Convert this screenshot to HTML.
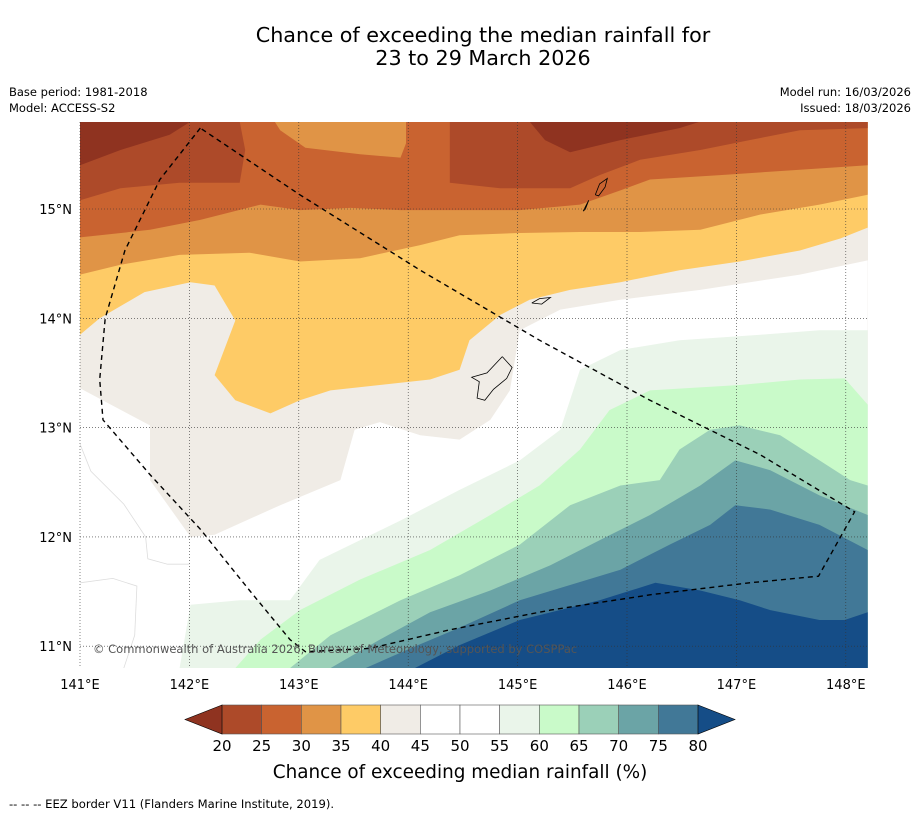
<!DOCTYPE html>
<html><head><meta charset="utf-8"><style>
body{margin:0;background:#fff;font-family:"Liberation Sans","DejaVu Sans",sans-serif}
svg text{font-family:"DejaVu Sans","Liberation Sans",sans-serif}
</style></head><body>
<svg id="s" width="919" height="816" xmlns="http://www.w3.org/2000/svg">
<text x="483" y="42" font-size="20.7" text-anchor="middle">Chance of exceeding the median rainfall for</text>
<text x="483" y="65" font-size="20.7" text-anchor="middle">23 to 29 March 2026</text>
<text x="9" y="96" font-size="11.5">Base period: 1981-2018</text>
<text x="9" y="112" font-size="11.5">Model: ACCESS-S2</text>
<text x="911" y="96" font-size="11.5" text-anchor="end">Model run: 16/03/2026</text>
<text x="911" y="112" font-size="11.5" text-anchor="end">Issued: 18/03/2026</text>
<defs><clipPath id="mc"><rect x="80" y="122" width="788" height="546"/></clipPath></defs>
<g id="map" clip-path="url(#mc)"></g>
<g id="axes"></g>
<text x="93" y="653" font-size="11.5" fill="#555">© Commonwealth of Australia 2026, Bureau of Meteorology, supported by COSPPac</text>
<g id="cbar"></g>
<text x="460" y="778" font-size="18.4" text-anchor="middle">Chance of exceeding median rainfall (%)</text>
<text x="9" y="808" font-size="11.6">--  --  -- EEZ border V11 (Flanders Marine Institute, 2019).</text>
</svg>
<script>
const lonTicks=[141,142,143,144,145,146,147,148];
const latTicks=[11,12,13,14,15];
const levels=[20,25,30,35,40,45,50,55,60,65,70,75,80];
const bandColors=['#ad4a29','#c96330','#e09446','#fecb66','#f0ece6','#ffffff','#ffffff','#eaf5ea','#c9fac9','#9bd0b8','#6ba4a6','#417897'];
const lowColor='#8f3320', highColor='#154d87';
const c40=[[141,13.85],[141.18,14.00],[141.59,14.24],[142.01,14.33],[142.23,14.30],[142.42,13.98],[142.23,13.48],[142.42,13.25],[142.74,13.13],[143.01,13.25],[143.29,13.34],[143.74,13.39],[144.20,13.44],[144.47,13.53],[144.56,13.80],[144.84,14.03],[145.11,14.17],[145.48,14.26],[145.94,14.33],[146.48,14.44],[147.03,14.52],[147.58,14.62],[147.95,14.73],[148.2,14.83]];
const c35=[[141,14.40],[141.37,14.49],[141.91,14.58],[142.55,14.60],[143.01,14.52],[143.56,14.55],[144.11,14.67],[144.47,14.76],[145.02,14.78],[145.57,14.79],[146.12,14.79],[146.67,14.81],[147.22,14.95],[147.76,15.04],[148.2,15.13]];
const c30=[[141,14.74],[141.64,14.81],[142.10,14.90],[142.65,15.04],[143.01,14.99],[143.47,15.01],[143.93,14.99],[144.38,14.99],[145.02,14.99],[145.57,15.04],[145.94,15.17],[146.21,15.27],[146.85,15.31],[147.58,15.36],[148.2,15.40]];
const patch30=[[142.78,15.80],[142.83,15.72],[143.06,15.56],[143.56,15.50],[143.93,15.47],[143.98,15.60],[143.98,15.80]];
const c25w=[[141,15.08],[141.37,15.19],[141.91,15.24],[142.46,15.24],[142.51,15.54],[142.46,15.80],[141,15.80]];
const c25e=[[144.38,15.80],[144.38,15.24],[144.84,15.19],[145.48,15.19],[145.75,15.31],[146.12,15.45],[146.67,15.54],[147.12,15.63],[147.58,15.72],[148.2,15.74],[148.2,15.80]];
const c20w=[[141,15.40],[141.37,15.54],[141.82,15.68],[142.01,15.80],[141,15.80]];
const c20e=[[145.11,15.80],[145.25,15.63],[145.48,15.52],[145.94,15.63],[146.48,15.74],[146.67,15.80]];
const c45=[[141,13.36],[141.64,13.02],[141.64,12.52],[142.01,12.00],[142.23,12.02],[142.83,12.29],[143.38,12.52],[143.51,12.98],[143.74,13.05],[144.11,12.93],[144.47,12.89],[144.75,13.07],[144.93,13.34],[145.02,13.89],[145.39,14.08],[145.94,14.17],[146.67,14.26],[147.58,14.40],[148.2,14.53]];
const c55=[[141.91,10.80],[142.01,11.38],[142.46,11.42],[142.92,11.42],[143.19,11.79],[143.93,12.15],[144.47,12.43],[145.02,12.70],[145.39,12.98],[145.57,13.53],[145.94,13.71],[146.48,13.80],[147.22,13.85],[147.76,13.89],[148.2,13.89]];
const c60=[[142.42,10.80],[142.65,11.06],[143.01,11.33],[143.56,11.61],[144.20,11.88],[144.75,12.20],[145.20,12.47],[145.57,12.80],[145.84,13.16],[146.21,13.34],[147.03,13.39],[147.58,13.44],[147.99,13.45],[148.2,13.21]];
const c65=[[142.92,10.80],[143.29,11.10],[143.93,11.42],[144.47,11.65],[145.02,11.93],[145.48,12.29],[145.94,12.47],[146.30,12.52],[146.48,12.80],[146.76,12.98],[147.03,13.02],[147.40,12.93],[147.76,12.70],[148.04,12.52],[148.2,12.47]];
const c70=[[143.29,10.80],[143.74,11.06],[144.20,11.31],[144.75,11.51],[145.30,11.74],[145.75,11.97],[146.21,12.20],[146.67,12.47],[146.99,12.70],[147.31,12.61],[147.76,12.38],[148.2,12.20]];
const c75=[[143.61,10.80],[144.02,10.98],[144.47,11.17],[145.02,11.42],[145.48,11.56],[145.94,11.70],[146.39,11.93],[146.76,12.11],[146.99,12.29],[147.31,12.25],[147.76,12.11],[148.2,11.88]];
const c80=[[144.06,10.80],[144.47,11.01],[145.02,11.24],[145.75,11.42],[146.26,11.58],[146.67,11.51],[147.03,11.42],[147.31,11.33],[147.76,11.24],[147.99,11.24],[148.2,11.31]];
const faint1=[[141,12.85],[141.1,12.6],[141.4,12.3],[141.6,12.0],[141.62,11.8],[141.8,11.75],[142.0,11.75]];
const faint2=[[141,11.58],[141.3,11.62],[141.52,11.55],[141.5,11.1],[141.4,10.8]];
const eez=[[142.10,15.74],[141.73,15.27],[141.41,14.62],[141.23,14.00],[141.18,13.44],[141.21,13.07],[141.64,12.57],[142.10,12.07],[142.55,11.51],[142.92,11.06],[143.06,10.95],[143.65,10.98],[144.38,11.15],[145.30,11.33],[146.21,11.47],[147.12,11.58],[147.75,11.64],[148.08,12.23],[147.22,12.75],[146.21,13.25],[145.20,13.80],[144.11,14.44],[143.01,15.13],[142.10,15.74]];
const guam=[[144.86,13.65],[144.95,13.55],[144.9,13.45],[144.78,13.35],[144.7,13.25],[144.63,13.27],[144.65,13.42],[144.58,13.46],[144.72,13.5]];
const saipan=[[145.71,15.13],[145.75,15.23],[145.82,15.28],[145.8,15.2],[145.74,15.12]];
const tinian=[[145.6,14.98],[145.65,15.08],[145.62,15.0]];
const rota=[[145.13,14.14],[145.2,14.18],[145.3,14.19],[145.22,14.13]];
const X=lon=>80+(lon-141)*109.4;
const Y=lat=>209-(lat-15)*109.3;
const NS='http://www.w3.org/2000/svg';
const map=document.getElementById('map');
function pts(a){return a.map(p=>X(p[0]).toFixed(1)+','+Y(p[1]).toFixed(1)).join(' ');}
function poly(parent,a,fill,name,stroke,dash){
 const e=document.createElementNS(NS,stroke&&fill==='none'?'polyline':'polygon');
 e.setAttribute('points',pts(a));e.setAttribute('fill',fill);
 if(stroke){e.setAttribute('stroke',stroke);e.setAttribute('stroke-width',dash?1.4:0.8);if(dash)e.setAttribute('stroke-dasharray',dash);}
 
 
 parent.appendChild(e);return e;}
const NW=[141,15.8],NE=[148.2,15.8],SW=[141,10.8],SE=[148.2,10.8];
const bg=document.createElementNS(NS,'rect');bg.setAttribute('x',80);bg.setAttribute('y',122);bg.setAttribute('width',788);bg.setAttribute('height',546);bg.setAttribute('fill',bandColors[4]);


map.appendChild(bg);
poly(map,[...c40,NE,NW],bandColors[3],'band-35-40');
poly(map,[...c35,NE,NW],bandColors[2],'band-30-35');
poly(map,[...c30,NE,NW],bandColors[1],'band-25-30');
poly(map,patch30,bandColors[2],'band-30-35-patch');
poly(map,c25w,bandColors[0],'band-20-25-west');
poly(map,c25e,bandColors[0],'band-20-25-east');
poly(map,c20w,lowColor,'band-below-20-west');
poly(map,c20e,lowColor,'band-below-20-east');
poly(map,[...c45,SE,SW],bandColors[5],'band-45-55');
poly(map,[...c55,SE],bandColors[7],'band-55-60');
poly(map,[...c60,SE],bandColors[8],'band-60-65');
poly(map,[...c65,SE],bandColors[9],'band-65-70');
poly(map,[...c70,SE],bandColors[10],'band-70-75');
poly(map,[...c75,SE],bandColors[11],'band-75-80');
poly(map,[...c80,SE],highColor,'band-above-80');
poly(map,faint1,'none','faint-contour-50','#ddd');
poly(map,faint2,'none','faint-contour-50b','#ddd');
[guam,saipan,tinian,rota].forEach((a,i)=>{const e=poly(map,[...a,a[0]],'none','island-outline-'+i,'#000');});
const ax=document.getElementById('axes');
lonTicks.forEach(l=>{const e=document.createElementNS(NS,'line');e.setAttribute('x1',X(l));e.setAttribute('x2',X(l));e.setAttribute('y1',122);e.setAttribute('y2',668);e.setAttribute('stroke','#333');e.setAttribute('stroke-width',0.6);e.setAttribute('stroke-dasharray','1,2');


ax.appendChild(e);
const t=document.createElementNS(NS,'text');t.setAttribute('x',X(l));t.setAttribute('y',689);t.setAttribute('font-size',13);t.setAttribute('text-anchor','middle');t.textContent=l+'°E';


ax.appendChild(t);});
latTicks.forEach(l=>{const e=document.createElementNS(NS,'line');e.setAttribute('y1',Y(l));e.setAttribute('y2',Y(l));e.setAttribute('x1',80);e.setAttribute('x2',868);e.setAttribute('stroke','#333');e.setAttribute('stroke-width',0.6);e.setAttribute('stroke-dasharray','1,2');


ax.appendChild(e);
const t=document.createElementNS(NS,'text');t.setAttribute('x',72);t.setAttribute('y',Y(l)+5);t.setAttribute('font-size',13);t.setAttribute('text-anchor','end');t.textContent=l+'°N';


ax.appendChild(t);});
poly(ax,eez,'none','eez-border','#000','5,4');
const cb=document.getElementById('cbar');
const cx0=222,cw=(698-222)/bandColors.length,cy=705,ch=29;
bandColors.forEach((c,i)=>{const r=document.createElementNS(NS,'rect');r.setAttribute('x',cx0+i*cw);r.setAttribute('y',cy);r.setAttribute('width',cw);r.setAttribute('height',ch);r.setAttribute('fill',c);r.setAttribute('stroke','#555');r.setAttribute('stroke-width',0.6);


cb.appendChild(r);});
const lt=document.createElementNS(NS,'polygon');lt.setAttribute('points',`${cx0},${cy} 185,${cy+ch/2} ${cx0},${cy+ch}`);lt.setAttribute('fill',lowColor);lt.setAttribute('stroke','#000');lt.setAttribute('stroke-width',0.6);


cb.appendChild(lt);
const rt=document.createElementNS(NS,'polygon');rt.setAttribute('points',`698,${cy} 735,${cy+ch/2} 698,${cy+ch}`);rt.setAttribute('fill',highColor);rt.setAttribute('stroke','#000');rt.setAttribute('stroke-width',0.6);


cb.appendChild(rt);
levels.forEach((v,i)=>{const t=document.createElementNS(NS,'text');t.setAttribute('x',cx0+i*cw);t.setAttribute('y',751);t.setAttribute('font-size',15);t.setAttribute('text-anchor','middle');t.textContent=v;


cb.appendChild(t);});
</script>
</body></html>
